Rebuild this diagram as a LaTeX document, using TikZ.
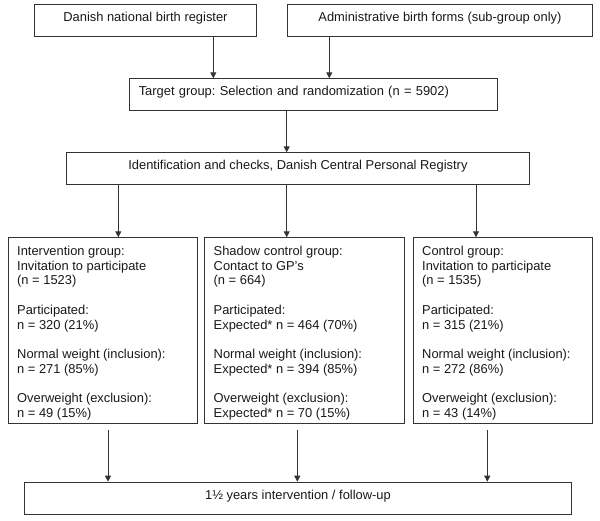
\documentclass[tikz,border=0pt]{standalone}
\usepackage{fontspec}
\setmainfont{Liberation Sans}
\usetikzlibrary{arrows.meta}
\frenchspacing
\begin{document}
\begin{tikzpicture}[x=1pt,y=-1pt,
  box/.style={draw=black!80, line width=0.9pt, inner sep=0pt, anchor=north west},
  smallbox/.style={box, minimum height=31.7pt, text height=16.7pt, text depth=15pt,
    font=\fontsize{12.9}{14.73}\selectfont, text=black!90},
  grp/.style={box, minimum height=186pt},
  gtxt/.style={anchor=north west, inner sep=0pt, align=left,
    font=\fontsize{12.9}{14.73}\selectfont, text=black!90},
  arr/.style={draw=black!80, line width=0.9pt, -{Triangle[length=6pt,width=6pt]}}]
\useasboundingbox (0,0) rectangle (600,520);

\node[smallbox, minimum width=221.4pt] (reg) at (34.3,4) {Danish national birth register};
\node[smallbox, minimum width=305.6pt] (forms) at (286.7,4) {Administrative birth forms (sub-group only)};
\node[smallbox, minimum width=368.3pt, text width=349.7pt, align=left, inner xsep=9.3pt] (tgt) at (129,78.3) {Target group: Selection and randomization (n = 5902)};
\node[smallbox, minimum width=463pt] (ident) at (66,152.3) {Identification and checks, Danish Central Personal Registry};

\node[grp, minimum width=189.3pt] (int) at (8,237.3) {};
\node[grp, minimum width=199.7pt] (sha) at (204.3,237.3) {};
\node[grp, minimum width=179.6pt] (con) at (412.7,237.3) {};

\node[gtxt] (intt) at (17,245.8) {Intervention group:\\Invitation to participate\\(n = 1523)\\[14.73pt]Participated:\\n = 320 (21\%)\\[14.73pt]Normal weight (inclusion):\\n = 271 (85\%)\\[14.73pt]Overweight (exclusion):\\n = 49 (15\%)};
\node[gtxt] (shat) at (213.5,245.8) {Shadow control group:\\Contact to GP’s\\(n = 664)\\[14.73pt]Participated:\\Expected* n = 464 (70\%)\\[14.73pt]Normal weight (inclusion):\\Expected* n = 394 (85\%)\\[14.73pt]Overweight (exclusion):\\Expected* n = 70 (15\%)};
\node[gtxt] (cont) at (422,245.8) {Control group:\\Invitation to participate\\(n = 1535)\\[14.73pt]Participated:\\n = 315 (21\%)\\[14.73pt]Normal weight (inclusion):\\n = 272 (86\%)\\[14.73pt]Overweight (exclusion):\\n = 43 (14\%)};

\node[smallbox, minimum width=547pt, minimum height=32.3pt] (fu) at (24,481.7) {1½ years intervention / follow-up};

\draw[arr] ([xshift=179pt]reg.south west) -- ([xshift=179pt]reg.south west |- tgt.north);
\draw[arr] ([xshift=42.6pt]forms.south west) -- ([xshift=42.6pt]forms.south west |- tgt.north);
\draw[arr] ([xshift=157.7pt]tgt.south west) -- ([xshift=157.7pt]tgt.south west |- ident.north);
\draw[arr] ([xshift=52.3pt]ident.south west) -- ([xshift=52.3pt]ident.south west |- int.north);
\draw[arr] ([xshift=220.7pt]ident.south west) -- ([xshift=220.7pt]ident.south west |- sha.north);
\draw[arr] ([xshift=410pt]ident.south west) -- ([xshift=410pt]ident.south west |- con.north);
\draw[arr] ([xshift=100pt,yshift=-5.7pt]int.south west) -- ([xshift=100pt]int.south west |- fu.north);
\draw[arr] ([xshift=93pt,yshift=-5.7pt]sha.south west) -- ([xshift=93pt]sha.south west |- fu.north);
\draw[arr] ([xshift=74.6pt,yshift=-5.7pt]con.south west) -- ([xshift=74.6pt]con.south west |- fu.north);
\end{tikzpicture}
\end{document}
